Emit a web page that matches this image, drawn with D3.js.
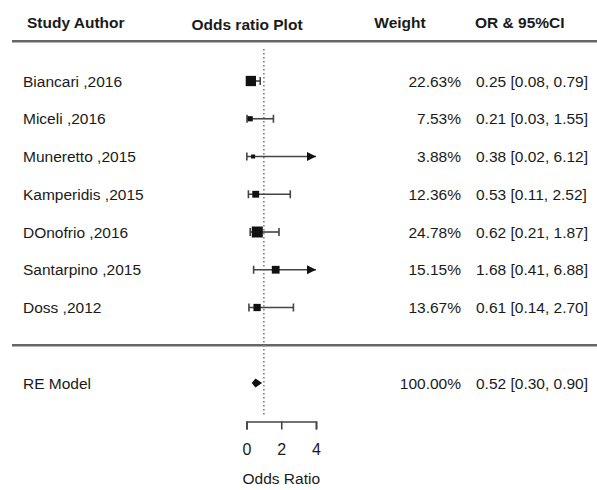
<!DOCTYPE html>
<html>
<head>
<meta charset="utf-8">
<script src="https://cdn.jsdelivr.net/npm/d3@7"></script>
<style>
  body { margin: 0; background: #fff; }
  svg text { font-family: "Liberation Sans", Arial, sans-serif; fill: #1a1a1a; }
</style>
</head>
<body>
<svg id="forest"></svg>
<script>
// study data
const studies = ['Biancari ,2016', 'Miceli ,2016', 'Muneretto ,2015', 'Kamperidis ,2015',
                 'DOnofrio ,2016', 'Santarpino ,2015', 'Doss ,2012']
const weights = [22.63, 7.53, 3.88, 12.36, 24.78, 15.15, 13.67]
const orVals = [0.25, 0.21, 0.38, 0.53, 0.62, 1.68, 0.61]
const ciLow = [0.08, 0.03, 0.02, 0.11, 0.21, 0.41, 0.14]
const ciHigh = [0.79, 1.55, 6.12, 2.52, 1.87, 6.88, 2.70]

// pooled random effects model
const reLabel = 'RE Model'
const reWeight = 100.00
const reOR = 0.52
const reLow = 0.30
const reHigh = 0.90

const headers = ['Study Author', 'Odds ratio Plot', 'Weight', 'OR & 95%CI']
const xTicks = [0, 2, 4]

const W = 597, H = 490
const svg = d3.select('#forest').attr('width', W).attr('height', H)

// x = odds ratio, clipped at axis limit
const x = d3.scaleLinear().domain([0, 4]).range([246.5, 316])
// y = row index (studies 0..6, RE model at 8)
const y = d3.scaleLinear().domain([0, 8]).range([81, 383])
const boxSize = d3.scaleLinear().domain(d3.extent(weights)).range([4, 11])

const fmt = d3.format('.2f')
const rows = studies.map((s, i) => ({
    label: s, w: weights[i], or: orVals[i], lo: ciLow[i], hi: ciHigh[i], i: i
}))

// Headers
const hx = [27, 247, 400, 475]
const anchors = ['start', 'middle', 'middle', 'start']
svg.append('g')
    .selectAll('text')
    .data(headers)
    .join('text')
        .attr('x', (d, i) => hx[i])
        .attr('y', (d, i) => i === 1 ? 30 : 28)
        .attr('text-anchor', (d, i) => anchors[i])
        .attr('font-size', 15.5)
        .attr('font-weight', 'bold')
        .text(d => d)

// Horizontal rules
svg.append('g')
    .selectAll('line')
    .data([y(-1.05), y(7)])
    .join('line')
        .attr('x1', 12).attr('x2', W)
        .attr('y1', d => d).attr('y2', d => d)
        .attr('stroke', '#666')
        .attr('stroke-width', 2.5)

// Reference line at OR = 1
svg.append('line')
    .attr('x1', x(1)).attr('x2', x(1))
    .attr('y1', y(-0.85)).attr('y2', 417)
    .attr('stroke', '#777')
    .attr('stroke-width', 1.5)
    .attr('stroke-dasharray', '1.5,2.5')

const plot = svg.append('g')

// CI lines
plot.selectAll('.ci')
    .data(rows)
    .join('line')
        .attr('class', 'ci')
        .attr('x1', d => x(d.lo))
        .attr('x2', d => x(Math.min(d.hi, 4)))
        .attr('y1', d => y(d.i)).attr('y2', d => y(d.i))
        .attr('stroke', '#444')
        .attr('stroke-width', 1.6)

// end caps (only where the interval is inside the axis)
const caps = []
rows.forEach(d => {
    caps.push({ v: d.lo, i: d.i })
    if (d.hi <= 4) caps.push({ v: d.hi, i: d.i })
})
plot.selectAll('.cap')
    .data(caps)
    .join('line')
        .attr('class', 'cap')
        .attr('x1', d => x(d.v)).attr('x2', d => x(d.v))
        .attr('y1', d => y(d.i) - 4).attr('y2', d => y(d.i) + 4)
        .attr('stroke', '#444')
        .attr('stroke-width', 1.6)

// arrows for truncated intervals
plot.selectAll('.arrow')
    .data(rows.filter(d => d.hi > 4))
    .join('path')
        .attr('class', 'arrow')
        .attr('d', d => {
            const tx = x(4), ty = y(d.i)
            return `M${tx},${ty} L${tx - 9},${ty - 4.5} L${tx - 9},${ty + 4.5} Z`
        })
        .attr('fill', '#111')

// weighted boxes
plot.selectAll('.box')
    .data(rows)
    .join('rect')
        .attr('class', 'box')
        .attr('x', d => x(d.or) - boxSize(d.w) / 2)
        .attr('y', d => y(d.i) - boxSize(d.w) / 2)
        .attr('width', d => boxSize(d.w))
        .attr('height', d => boxSize(d.w))
        .attr('fill', '#111')

// RE diamond
const yr = y(8)
plot.append('path')
    .attr('d', `M${x(reLow)},${yr} L${x(reOR)},${yr - 4.5} L${x(reHigh)},${yr} L${x(reOR)},${yr + 4.5} Z`)
    .attr('fill', '#111')

// Row texts
const allRows = rows.concat([{ label: reLabel, w: reWeight, or: reOR, lo: reLow, hi: reHigh, i: 8 }])
const txt = svg.append('g').attr('font-size', 15.5)
txt.selectAll('.lab')
    .data(allRows)
    .join('text')
        .attr('x', 23)
        .attr('y', d => y(d.i) + 5.5)
        .text(d => d.label)
txt.selectAll('.wt')
    .data(allRows)
    .join('text')
        .attr('x', 461)
        .attr('y', d => y(d.i) + 5.5)
        .attr('text-anchor', 'end')
        .text(d => fmt(d.w) + '%')
txt.selectAll('.orci')
    .data(allRows)
    .join('text')
        .attr('x', 476)
        .attr('y', d => y(d.i) + 5.5)
        .text(d => `${fmt(d.or)} [${fmt(d.lo)}, ${fmt(d.hi)}]`)

// x axis
const axis = svg.append('g')
    .attr('transform', 'translate(0,421.5)')
    .call(d3.axisBottom(x).tickValues(xTicks).tickSize(8).tickPadding(14).tickFormat(d3.format('d')))
axis.selectAll('path, line').attr('stroke', '#444').attr('stroke-width', 1.6)
axis.selectAll('text').attr('font-size', 16).attr('font-family', '"Liberation Sans", Arial, sans-serif').attr('fill', '#1a1a1a')

svg.append('text')
    .attr('x', x(2))
    .attr('y', 484)
    .attr('text-anchor', 'middle')
    .attr('font-size', 15.5)
    .text('Odds Ratio')
</script>
</body>
</html>
